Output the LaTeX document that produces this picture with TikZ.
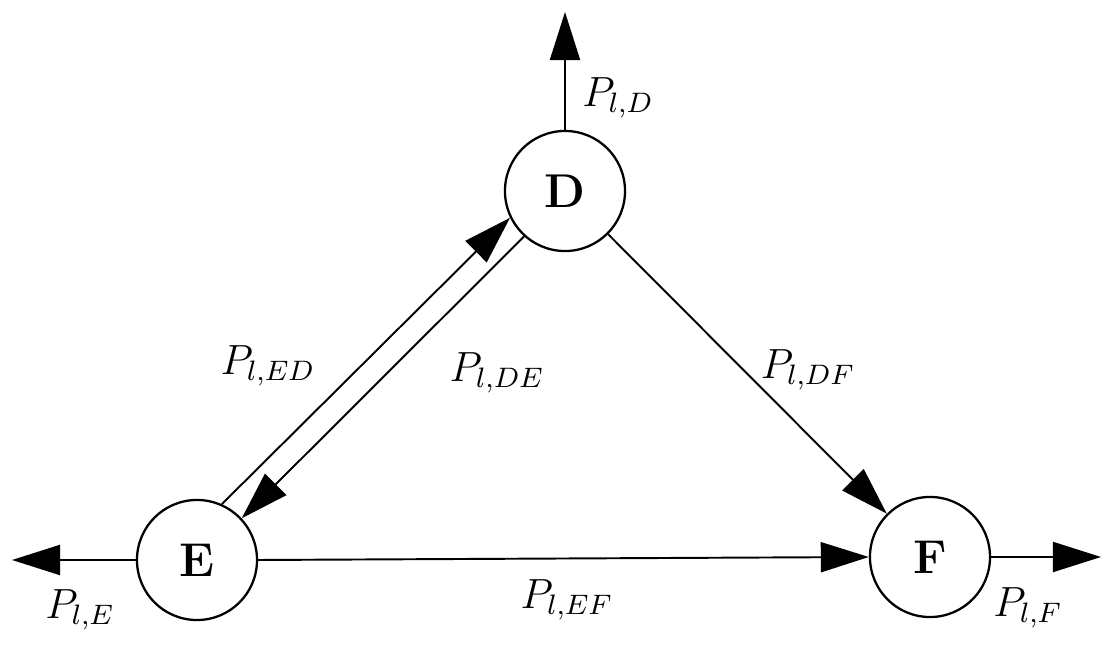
\documentclass[tikz,border=0pt]{standalone}
\usetikzlibrary{arrows.meta}
\tikzset{
  state/.style={draw,circle,line width=0.65pt,minimum size=1.2cm,inner sep=0pt,font=\fontsize{13.5}{16}\selectfont\bfseries},
  flow/.style={line width=0.55pt,-{Triangle[length=4.8mm,width=3mm]}},
  prob/.style={font=\fontsize{12}{14}\selectfont}
}
\begin{document}
\begin{tikzpicture}[x=0.01cm,y=-0.01cm]
\useasboundingbox (0,0) rectangle (1102,646);
\node[state] (D) at (565,191) {D};
\node[state] (E) at (197,560) {E};
\node[state] (F) at (930,557) {F};
\coordinate (Dout) at (565,12);
\coordinate (Eout) at (12,560);
\coordinate (Fout) at (1101,557);
% outgoing flows
\draw[flow] (D) -- (Dout);
\draw[flow] (E) -- (Eout);
\draw[flow] (F) -- (Fout);
% flows between the states
\draw[flow] (E.66) -- (D.206);
\draw[flow] (D.228) -- (E.43);
\draw[flow] (D) -- (F);
\draw[flow] (E.east) -- (F.west);
% labels
\node[prob] (lD) at (618,98) {$P_{l,D}$};
\node[prob] (lED) at (268,366) {$P_{l,ED}$};
\node[prob] (lDE) at (497,373) {$P_{l,DE}$};
\node[prob] (lDF) at (808,370) {$P_{l,DF}$};
\node[prob] (lE) at (80,610) {$P_{l,E}$};
\node[prob] (lEF) at (567,600) {$P_{l,EF}$};
\node[prob] (lF) at (1028,608) {$P_{l,F}$};
\end{tikzpicture}
\end{document}
